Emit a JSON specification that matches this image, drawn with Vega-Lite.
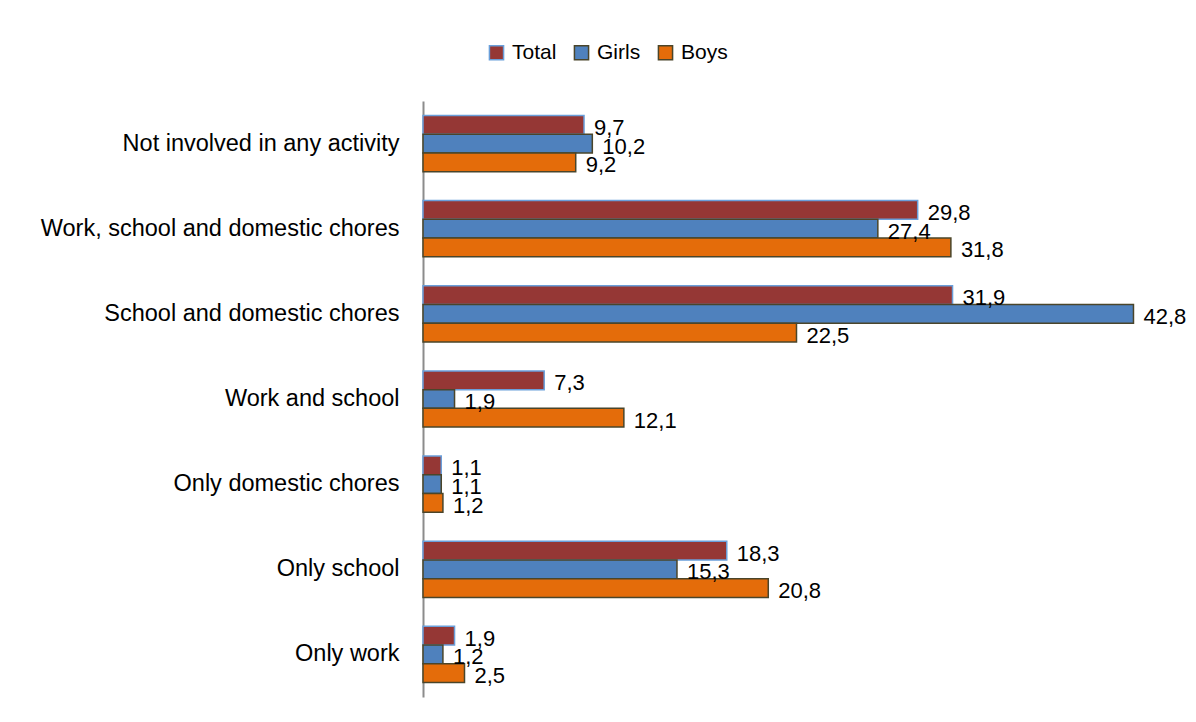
{
  "$schema": "https://vega.github.io/schema/vega-lite/v6.json",
  "width": 747,
  "height": 596,
  "autosize": {"type": "none"},
  "padding": {"left": 423, "top": 101, "right": 26, "bottom": 25},
  "background": "white",
  "config": {
    "view": {"stroke": null},
    "font": "Liberation Sans",
    "locale": {"number": {"decimal": ",", "thousands": ".", "grouping": [3], "currency": ["", ""]}}
  },
  "data": {
    "values": [
      {"activity": "Not involved in any activity", "group": "Total", "value": 9.7},
      {"activity": "Not involved in any activity", "group": "Girls", "value": 10.2},
      {"activity": "Not involved in any activity", "group": "Boys", "value": 9.2},
      {"activity": "Work, school and domestic chores", "group": "Total", "value": 29.8},
      {"activity": "Work, school and domestic chores", "group": "Girls", "value": 27.4},
      {"activity": "Work, school and domestic chores", "group": "Boys", "value": 31.8},
      {"activity": "School and domestic chores", "group": "Total", "value": 31.9},
      {"activity": "School and domestic chores", "group": "Girls", "value": 42.8},
      {"activity": "School and domestic chores", "group": "Boys", "value": 22.5},
      {"activity": "Work and school", "group": "Total", "value": 7.3},
      {"activity": "Work and school", "group": "Girls", "value": 1.9},
      {"activity": "Work and school", "group": "Boys", "value": 12.1},
      {"activity": "Only domestic chores", "group": "Total", "value": 1.1},
      {"activity": "Only domestic chores", "group": "Girls", "value": 1.1},
      {"activity": "Only domestic chores", "group": "Boys", "value": 1.2},
      {"activity": "Only school", "group": "Total", "value": 18.3},
      {"activity": "Only school", "group": "Girls", "value": 15.3},
      {"activity": "Only school", "group": "Boys", "value": 20.8},
      {"activity": "Only work", "group": "Total", "value": 1.9},
      {"activity": "Only work", "group": "Girls", "value": 1.2},
      {"activity": "Only work", "group": "Boys", "value": 2.5}
    ]
  },
  "encoding": {
    "y": {
      "field": "activity",
      "type": "nominal",
      "sort": ["Not involved in any activity", "Work, school and domestic chores", "School and domestic chores", "Work and school", "Only domestic chores", "Only school", "Only work"],
      "scale": {"paddingInner": 0.34, "paddingOuter": 0.17},
      "axis": {
        "title": null,
        "labelFontSize": 23.5,
        "labelColor": "#000000",
        "labelPadding": 24,
        "ticks": false,
        "domainColor": "#8c8c8c",
        "domainWidth": 2,
        "labelLimit": 500
      }
    },
    "yOffset": {"field": "group", "type": "nominal", "sort": ["Total", "Girls", "Boys"]},
    "x": {"field": "value", "type": "quantitative", "scale": {"domain": [0, 45]}, "axis": null}
  },
  "layer": [
    {
      "mark": {"type": "bar", "strokeWidth": 1.5},
      "encoding": {
        "color": {
          "field": "group",
          "type": "nominal",
          "scale": {"domain": ["Total", "Girls", "Boys"], "range": ["#953735", "#4F81BD", "#E46C0A"]},
          "legend": {
            "title": null,
            "orient": "none",
            "legendX": 63,
            "legendY": -59,
            "direction": "horizontal",
            "symbolType": "square",
            "symbolSize": 200,
            "symbolStrokeWidth": 1.5,
            "labelFontSize": 21,
            "labelColor": "#000000",
            "columnPadding": 14,
            "labelOffset": 5
          }
        },
        "stroke": {
          "field": "group",
          "type": "nominal",
          "scale": {"domain": ["Total", "Girls", "Boys"], "range": ["#6A9FDA", "#4A452A", "#4A452A"]},
          "legend": {
            "title": null,
            "orient": "none",
            "legendX": 63,
            "legendY": -59,
            "direction": "horizontal",
            "symbolType": "square",
            "symbolSize": 200,
            "symbolStrokeWidth": 1.5,
            "labelFontSize": 21,
            "labelColor": "#000000",
            "columnPadding": 14,
            "labelOffset": 5
          }
        }
      }
    },
    {
      "mark": {"type": "text", "align": "left", "baseline": "middle", "dx": 10, "dy": 3, "fontSize": 22, "color": "#000000"},
      "encoding": {
        "text": {"field": "value", "type": "quantitative", "format": ".1f"}
      }
    }
  ]
}
